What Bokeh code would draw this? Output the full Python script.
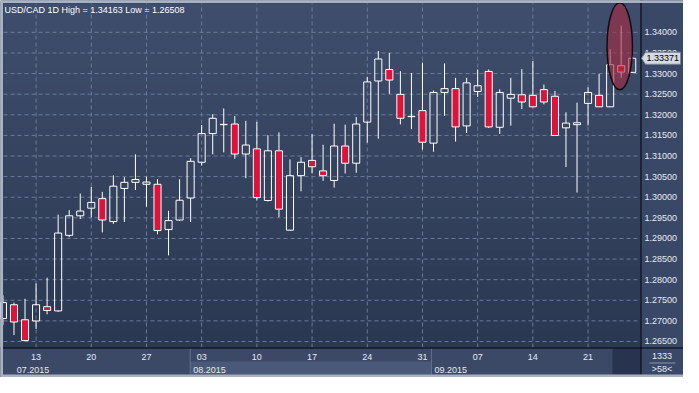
import numpy as np
from bokeh.plotting import figure
from bokeh.models import Range1d, ColumnDataSource
from bokeh.core.properties import value
from bokeh.embed import file_html
from bokeh.resources import INLINE

# ---------------- data ----------------
dates = ["2015-07-08", "2015-07-09", "2015-07-10",
         "2015-07-13", "2015-07-14", "2015-07-15", "2015-07-16", "2015-07-17",
         "2015-07-20", "2015-07-21", "2015-07-22", "2015-07-23", "2015-07-24",
         "2015-07-27", "2015-07-28", "2015-07-29", "2015-07-30", "2015-07-31",
         "2015-08-03", "2015-08-04", "2015-08-05", "2015-08-06", "2015-08-07",
         "2015-08-10", "2015-08-11", "2015-08-12", "2015-08-13", "2015-08-14",
         "2015-08-17", "2015-08-18", "2015-08-19", "2015-08-20", "2015-08-21",
         "2015-08-24", "2015-08-25", "2015-08-26", "2015-08-27", "2015-08-28",
         "2015-08-31", "2015-09-01", "2015-09-02", "2015-09-03", "2015-09-04",
         "2015-09-07", "2015-09-08", "2015-09-09", "2015-09-10", "2015-09-11",
         "2015-09-14", "2015-09-15", "2015-09-16", "2015-09-17", "2015-09-18",
         "2015-09-21", "2015-09-22", "2015-09-23", "2015-09-24", "2015-09-25"]

opens = [1.27057, 1.27391, 1.27027, 1.26997, 1.27345, 1.27242, 1.29075, 1.29549,
         1.29734, 1.29966, 1.29409, 1.30212, 1.30361, 1.30314, 1.30314, 1.29215,
         1.29447, 1.29980, 1.30848, 1.31544, 1.31760, 1.31776, 1.31048, 1.31173,
         1.29920, 1.31126, 1.29201, 1.30523, 1.30894, 1.30639, 1.30407, 1.31242,
         1.30825, 1.31823, 1.32820, 1.33099, 1.32495, 1.31955, 1.32101, 1.31312,
         1.32542, 1.32635, 1.31730, 1.32565, 1.33052, 1.31697, 1.32403, 1.32486,
         1.32472, 1.32611, 1.32449, 1.31683, 1.31760, 1.32277, 1.32472, 1.32194,
         1.33191, 1.33029]
highs = [1.27620, 1.27444, 1.27537, 1.27908, 1.28048, 1.29579, 1.29688, 1.30089,
         1.30252, 1.30129, 1.30530, 1.30484, 1.31041, 1.30500, 1.30437, 1.29672,
         1.30437, 1.30948, 1.31753, 1.32015, 1.32154, 1.31969, 1.31853, 1.31830,
         1.31505, 1.31574, 1.30918, 1.30971, 1.31528, 1.31273, 1.31783, 1.31760,
         1.31945, 1.32920, 1.33546, 1.33500, 1.33059, 1.33013, 1.33268, 1.32588,
         1.33245, 1.32897, 1.32897, 1.33099, 1.33099, 1.32618, 1.32897, 1.33106,
         1.33304, 1.32734, 1.32579, 1.32061, 1.32294, 1.32665, 1.32990, 1.33593,
         1.34163, 1.33540]
lows = [1.26900, 1.26655, 1.26508, 1.26802, 1.27159, 1.27219, 1.29029, 1.29470,
        1.29509, 1.29145, 1.29354, 1.29400, 1.30175, 1.29771, 1.29099, 1.28588,
        1.29423, 1.29400, 1.30769, 1.31041, 1.31087, 1.30932, 1.30461, 1.29920,
        1.29897, 1.29516, 1.29190, 1.30143, 1.30577, 1.30398, 1.30235, 1.30577,
        1.30593, 1.31326, 1.31419, 1.32509, 1.31767, 1.31651, 1.31157, 1.31103,
        1.31976, 1.31349, 1.31558, 1.32433, 1.31680, 1.31535, 1.31737, 1.32138,
        1.32180, 1.32254, 1.31490, 1.30732, 1.30113, 1.31744, 1.32190, 1.32190,
        1.32897, 1.33020]
closes = [1.27444, 1.26973, 1.26523, 1.27391, 1.27252, 1.29131, 1.29549, 1.29665,
          1.29874, 1.29447, 1.30268, 1.30361, 1.30430, 1.30368, 1.29191, 1.29433,
          1.29927, 1.30871, 1.31544, 1.31915, 1.31767, 1.31048, 1.31266, 1.29990,
          1.31126, 1.29711, 1.30523, 1.30848, 1.30739, 1.30523, 1.31242, 1.30825,
          1.31776, 1.32797, 1.33354, 1.32843, 1.31915, 1.31962, 1.31335, 1.32542,
          1.32635, 1.31706, 1.32774, 1.32704, 1.31706, 1.32542, 1.32495, 1.32310,
          1.32194, 1.32310, 1.31498, 1.31799, 1.31806, 1.32542, 1.32194, 1.33215,
          1.33036, 1.33371]

price_ticks = [1.265, 1.270, 1.275, 1.280, 1.285, 1.290, 1.295, 1.300,
               1.305, 1.310, 1.315, 1.320, 1.325, 1.330, 1.335, 1.340]
week_tick_dates = ["2015-07-13", "2015-07-20", "2015-07-27", "2015-08-03",
                   "2015-08-10", "2015-08-17", "2015-08-24", "2015-08-31",
                   "2015-09-07", "2015-09-14", "2015-09-21"]
month_labels = ["07.2015", "08.2015", "09.2015"]
title_text = "USD/CAD 1D High = 1.34163 Low = 1.26508"
last_price_text = "1.33371"
corner_top_text = "1333"
corner_bottom_text = ">58<"

# highlight ellipse around the 2015-09-24 bar
highlight_date = "2015-09-24"
highlight_y = 1.33662
highlight_w = 2.3
highlight_h = 0.0211

# ---------------- layout (canvas pixels, y downward) ----------------
W, H = 683, 377
PL, PT, PR, PB = 3, 3, 640, 347          # plot area
XL, XR = 0.05, 57.75                     # bar index at PL / PR
YT, YB = 1.3470, 1.26354                 # price at PT / PB
kx = (PR - PL) / (XR - XL)
ky = (PB - PT) / (YT - YB)

n = len(dates)
xs = list(range(n))
up = [c >= o for o, c in zip(opens, closes)]
body_top = [max(o, c) for o, c in zip(opens, closes)]
body_bot = [min(o, c) for o, c in zip(opens, closes)]
RED = "#dc143c"
src = ColumnDataSource(dict(x=xs, high=highs, low=lows, top=body_top, bottom=body_bot,
                            fill=[None if u else RED for u in up]))

week_pos = [dates.index(d) for d in week_tick_dates]
week_lab = [d[-2:] for d in week_tick_dates]
aug_first = next(i for i, d in enumerate(dates) if d.startswith("2015-08"))
sep_first = next(i for i, d in enumerate(dates) if d.startswith("2015-09"))
band_edges = [aug_first - 1.04, sep_first - 0.19]
month_x = [XL + 13.2 / kx, band_edges[0] + 3 / kx, band_edges[1] + 3 / kx]
price_lab = ["%.5f" % v for v in price_ticks]

p = figure(width=W, height=H,
           x_range=Range1d(XL - PL / kx, XR + (W - PR) / kx),
           y_range=Range1d(YB - (H - PB) / ky, YT + PT / ky),
           output_backend="svg", toolbar_location=None,
           min_border=0, min_border_left=0, min_border_right=0,
           min_border_top=0, min_border_bottom=0,
           outline_line_color=None, background_fill_color="#34425f",
           border_fill_color="#34425f")
p.axis.visible = False
p.grid.visible = False
p.extra_x_ranges = {"px": Range1d(0, W)}
p.extra_y_ranges = {"px": Range1d(H, 0)}

# gradient background of the plot area
N = 64
img = np.empty((N, 1), dtype=np.uint32)
view = img.view(dtype=np.uint8).reshape((N, 1, 4))
t = np.linspace(0, 1, N)[:, None]
bot_c = np.array([43, 56, 82])
top_c = np.array([63, 78, 108])
for k in range(3):
    view[:, :, k] = (bot_c[k] + (top_c[k] - bot_c[k]) * t).astype(np.uint8)
view[:, :, 3] = 255
p.image_rgba(image=[img], x=XL, y=YB, dw=XR - XL, dh=YT - YB)

# dashed grid
GRID = "#6a7b9b"
p.segment(x0=week_pos, y0=[YB] * len(week_pos), x1=week_pos, y1=[YT] * len(week_pos),
          line_color=GRID, line_dash="4 3", line_width=1)
p.segment(x0=[XL] * len(price_ticks), y0=price_ticks, x1=[XR] * len(price_ticks),
          y1=price_ticks, line_color=GRID, line_dash="4 3", line_width=1)

# candles
p.segment(x0="x", y0="high", x1="x", y1="top", source=src, line_color="white", line_width=1)
p.segment(x0="x", y0="bottom", x1="x", y1="low", source=src, line_color="white", line_width=1)
p.vbar(x="x", top="top", bottom="bottom", width=0.64, source=src,
       fill_color="fill", line_color="white", line_width=1)

# highlight ellipse
p.ellipse(x=[dates.index(highlight_date) - 0.13], y=[highlight_y], width=[highlight_w],
          height=[highlight_h], fill_color="#a82a40", fill_alpha=0.6,
          line_color="#140a10", line_width=1.5)

# ---- chrome: right price panel and bottom date strip ----
PANEL = "#3a4867"
p.quad(left=[PR], right=[W], top=[0], bottom=[H], x_range_name="px", y_range_name="px",
       fill_color=PANEL, line_color=None)
p.quad(left=[0], right=[PR], top=[PB], bottom=[H], x_range_name="px", y_range_name="px",
       fill_color="#3b4866", line_color=None)
p.quad(left=[band_edges[0]], right=[band_edges[1]], top=[PB + 14], bottom=[H - 3],
       y_range_name="px", fill_color="#4a5977", line_color=None)
p.quad(left=[55.2], right=[XR], top=[PB + 1], bottom=[H - 3],
       y_range_name="px", fill_color="#283350", line_color=None)
p.segment(x0=band_edges, y0=[PB + 1] * 2, x1=band_edges, y1=[H - 3] * 2,
          y_range_name="px", line_color="#62728f", line_width=1)
# axis lines
p.segment(x0=[0], y0=[PB + 0.5], x1=[W], y1=[PB + 0.5], x_range_name="px",
          y_range_name="px", line_color="black", line_width=1)
p.segment(x0=[PR + 0.5], y0=[0], x1=[PR + 0.5], y1=[H - 3], x_range_name="px",
          y_range_name="px", line_color="black", line_width=1)
# outer light border
BORDER = "#a9b2c2"
p.quad(left=[0, 0, 0], right=[PL - 0.5, W, W], top=[0, 0, H - 3], bottom=[H, PT - 0.5, H],
       x_range_name="px", y_range_name="px", fill_color=BORDER, line_color=None)

FONT = value("Liberation Sans")
LBL = "#e6eaf2"
# price labels
p.text(x=[PR + 4] * len(price_ticks), y=price_ticks, text=price_lab, x_range_name="px",
       text_font=FONT, text_font_size=value("9px"), text_color=LBL,
       text_baseline="middle", text_align="left")
# day labels
p.text(x=week_pos, y=[PB + 9] * len(week_pos), text=week_lab, y_range_name="px",
       text_font=FONT, text_font_size=value("9px"), text_color=LBL,
       text_baseline="middle", text_align="center")
# month labels
p.text(x=month_x, y=[PB + 22] * 3, text=month_labels, y_range_name="px",
       text_font=FONT, text_font_size=value("9px"), text_color=LBL,
       text_baseline="middle", text_align="left")
# title
p.text(x=[PL + 1], y=[PT + 1], text=[title_text], x_range_name="px", y_range_name="px",
       text_font=FONT, text_font_size=value("9px"), text_color="white",
       text_baseline="top", text_align="left")

# last price tag
last = closes[-1]
hh = 6 / ky
p.patch(x=[PR + 1, PR + 5, PR + 40, PR + 40, PR + 5],
        y=[last, last + hh, last + hh, last - hh, last - hh],
        x_range_name="px", fill_color="#d6dae2", line_color="#7a8294", line_width=1)
p.text(x=[PR + 6], y=[last], text=[last_price_text], x_range_name="px",
       text_font=FONT, text_font_size=value("9px"), text_color="black",
       text_baseline="middle", text_align="left")

# bottom-right corner
p.text(x=[PR + 21.5] * 2, y=[PB + 8.5, PB + 21], text=[corner_top_text, corner_bottom_text],
       x_range_name="px", y_range_name="px", text_font=FONT, text_font_size=value("9px"),
       text_color=LBL, text_baseline="middle", text_align="center")
p.segment(x0=[PR + 9], y0=[PB + 15.5], x1=[PR + 35], y1=[PB + 15.5], x_range_name="px",
          y_range_name="px", line_color="#8a95aa", line_width=1)

open("out.html", "w").write(file_html(p, INLINE))
